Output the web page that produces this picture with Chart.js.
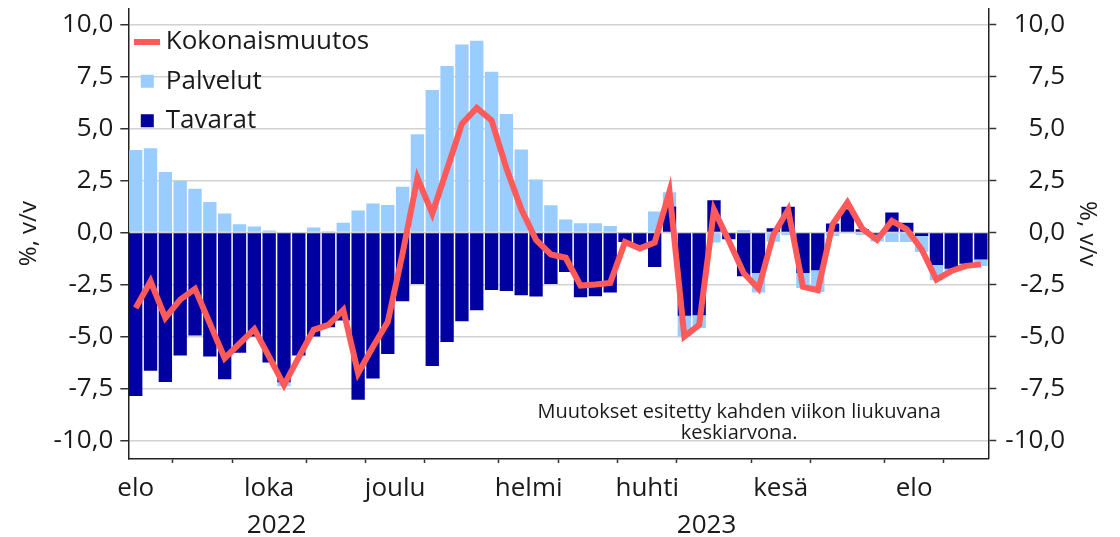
<!DOCTYPE html>
<html>
<head>
<meta charset="UTF-8">
<title>Kulutus, v/v</title>
<script src="https://cdn.jsdelivr.net/npm/chart.js@4.4.1/dist/chart.umd.min.js"></script>
<style>
    html, body { margin: 0; padding: 0; background: #fff; }
    #wrap { width: 1120px; height: 537px; }
</style>
</head>
<body>
<div id="wrap"><canvas id="myChart"></canvas></div>
<script>
// weekly data, week start (monday)
var weeks = [
    '2022-08-15', '2022-08-22', '2022-08-29', '2022-09-05', '2022-09-12', '2022-09-19', '2022-09-26',
    '2022-10-03', '2022-10-10', '2022-10-17', '2022-10-24', '2022-10-31', '2022-11-07', '2022-11-14',
    '2022-11-21', '2022-11-28', '2022-12-05', '2022-12-12', '2022-12-19', '2022-12-26', '2023-01-02',
    '2023-01-09', '2023-01-16', '2023-01-23', '2023-01-30', '2023-02-06', '2023-02-13', '2023-02-20',
    '2023-02-27', '2023-03-06', '2023-03-13', '2023-03-20', '2023-03-27', '2023-04-03', '2023-04-10',
    '2023-04-17', '2023-04-24', '2023-05-01', '2023-05-08', '2023-05-15', '2023-05-22', '2023-05-29',
    '2023-06-05', '2023-06-12', '2023-06-19', '2023-06-26', '2023-07-03', '2023-07-10', '2023-07-17',
    '2023-07-24', '2023-07-31', '2023-08-07', '2023-08-14', '2023-08-21', '2023-08-28', '2023-09-04',
    '2023-09-11', '2023-09-18'
];

var tavarat = [
    -7.87, -6.65, -7.19, -5.92, -4.95, -5.97, -7.06, -5.79, -5.0, -6.26,
    -7.2, -5.92, -5.0, -4.56, -4.23, -8.05, -7.03, -5.84, -3.31, -2.47,
    -6.42, -5.27, -4.27, -3.74, -2.76, -2.81, -3.02, -3.08, -2.48, -1.9,
    -3.11, -3.06, -2.89, -0.45, -0.65, -1.66, 1.26, -4.0, -3.98, 1.56,
    -0.32, -2.1, -1.94, 0.21, 1.24, -1.94, -1.81, 0.44, 1.13, 0.16,
    -0.1, 0.97, 0.48, -0.16, -1.56, -1.74, -1.5, -1.29
];

var palvelut = [
    3.98, 4.06, 2.92, 2.48, 2.11, 1.47, 0.92, 0.4, 0.29, 0.1,
    -0.2, 0, 0.25, 0.07, 0.48, 1.07, 1.4, 1.33, 2.21, 4.73,
    6.87, 8.02, 9.06, 9.24, 7.74, 5.71, 4.0, 2.56, 1.32, 0.63,
    0.45, 0.45, 0.32, 0, 0, 1.02, 0.68, -1.0, -0.61, -0.48,
    0, 0.11, -0.94, -0.44, -0.11, -0.73, -1.05, -0.16, 0, -0.11,
    -0.33, -0.45, -0.45, -0.77, -0.74, -0.1, -0.1, -0.32
];

var kokonais = [
    -3.63, -2.34, -4.11, -3.23, -2.71, -4.37, -6.05, -5.34, -4.65, -5.98,
    -7.34, -6.0, -4.68, -4.44, -3.72, -6.77, -5.5, -4.3, -1.0, 2.63,
    0.92, 3.06, 5.24, 6.0, 5.4, 3.1, 1.13, -0.35, -1.05, -1.21,
    -2.55, -2.5, -2.42, -0.45, -0.76, -0.48, 1.98, -5.0, -4.44, 1.1,
    -0.39, -1.95, -2.7, -0.11, 1.1, -2.61, -2.77, 0.4, 1.45, 0.19,
    -0.35, 0.56, 0.16, -0.8, -2.26, -1.85, -1.6, -1.53
];

var yTicks = [-10, -7.5, -5, -2.5, 0, 2.5, 5, 7.5, 10];
var monthNames = ['tammi', 'helmi', 'maalis', 'huhti', 'touko', 'kesä',
                  'heinä', 'elo', 'syys', 'loka', 'marras', 'joulu'];
var legendOrder = ['Kokonaismuutos', 'Palvelut', 'Tavarat'];
var noteLines = ['Muutokset esitetty kahden viikon liukuvana', 'keskiarvona.'];

var FONT = "'Open Sans', sans-serif";
var TEXT = '#1a1a1a';

//------------------------------------------------------------------------------
// month / year ticks from the week list (index units, bar i is centred on i)
var monthBounds = [];
var yearBounds = [];
for (var i = 1; i < weeks.length; i++) {
    if (weeks[i].slice(5, 7) !== weeks[i - 1].slice(5, 7)) monthBounds.push(i);
    if (weeks[i].slice(0, 4) !== weeks[i - 1].slice(0, 4)) yearBounds.push(i);
}
var monthTicks = monthBounds.map(function (b) { return {value: b - 0.5, label: ''}; });
var starts = [-(parseInt(weeks[0].slice(8, 10), 10) - 1) / 7].concat(monthBounds);
for (var j = 0; j < monthBounds.length; j++) {
    var m = parseInt(weeks[monthBounds[j] - 1].slice(5, 7), 10);
    if (m % 2 === 0) {
        monthTicks.push({value: (starts[j] + monthBounds[j]) / 2 - 0.5, label: monthNames[m - 1]});
    }
}
monthTicks.sort(function (a, b) { return a.value - b.value; });

var yearTicks = [];
var ys = [0].concat(yearBounds), ye = yearBounds.concat([weeks.length]);
for (var k = 0; k < ys.length; k++) {
    yearTicks.push({value: (ys[k] + ye[k]) / 2 - 0.5, label: weeks[ys[k]].slice(0, 4)});
}

function fmt(v) {
    return v.toFixed(1).replace('.', ',');
}

// legend swatch for the line
var swatch = document.createElement('canvas');
swatch.width = 26;
swatch.height = 6;
var sctx = swatch.getContext('2d');
sctx.fillStyle = '#ff5a5a';
sctx.fillRect(0, 0, 26, 6);

var notePlugin = {
    id: 'note',
    afterDatasetsDraw: function (chart) {
        var c = chart.ctx;
        var x = chart.scales.x.getPixelForValue(40.7);
        c.save();
        c.font = '20px ' + FONT;
        c.fillStyle = TEXT;
        c.textAlign = 'center';
        c.textBaseline = 'alphabetic';
        c.fillText(noteLines[0], x, chart.scales.y.getPixelForValue(-8.92));
        c.fillText(noteLines[1], x, chart.scales.y.getPixelForValue(-9.94));
        c.restore();
    }
};

//------------------------------------------------------------------------------
Chart.defaults.font.family = FONT;
Chart.defaults.color = TEXT;

var ctx = document.getElementById('myChart');
var myChart = new Chart(ctx, {
    data: {
        labels: weeks,
        datasets: [
            {
                type: 'line',
                label: 'Kokonaismuutos',
                data: kokonais,
                borderColor: '#ff5a5a',
                backgroundColor: '#ff5a5a',
                borderWidth: 6,
                pointRadius: 0,
                tension: 0,
                stack: 'total',
                order: 0,
                xAxisID: 'x',
                yAxisID: 'y'
            },
            {
                type: 'bar',
                label: 'Tavarat',
                data: tavarat,
                backgroundColor: '#0000a0',
                stack: 'kulutus',
                order: 1,
                barPercentage: 0.9,
                categoryPercentage: 1.0,
                xAxisID: 'x',
                yAxisID: 'y'
            },
            {
                type: 'bar',
                label: 'Palvelut',
                data: palvelut,
                backgroundColor: '#99ccff',
                stack: 'kulutus',
                order: 1,
                barPercentage: 0.9,
                categoryPercentage: 1.0,
                xAxisID: 'x',
                yAxisID: 'y'
            }
        ]
    },
    options: {
        responsive: true,
        maintainAspectRatio: false,
        animation: false,
        layout: {padding: {left: 10, right: 18.6, top: 8, bottom: 0}},
        plugins: {
            tooltip: {enabled: false},
            legend: {
                position: 'chartArea',
                align: 'start',
                title: {display: true, text: '', font: {size: 1}, padding: {top: 7, bottom: 7}},
                labels: {
                    font: {size: 26},
                    color: TEXT,
                    usePointStyle: true,
                    boxWidth: 11,
                    boxHeight: 13,
                    padding: 13.5,
                    generateLabels: function (chart) {
                        var items = Chart.defaults.plugins.legend.labels.generateLabels(chart);
                        items.forEach(function (it) {
                            it.pointStyle = it.text === 'Kokonaismuutos' ? swatch : 'rect';
                            it.lineWidth = 0;
                        });
                        return items;
                    },
                    sort: function (a, b) {
                        return legendOrder.indexOf(a.text) - legendOrder.indexOf(b.text);
                    }
                }
            }
        },
        scales: {
            x: {
                type: 'category',
                display: false,
                offset: true,
                stacked: true,
                grid: {display: false}
            },
            xm: {
                type: 'linear',
                position: 'bottom',
                weight: 0,
                min: -0.5,
                max: 57.5,
                afterBuildTicks: function (s) {
                    s.ticks = monthTicks.map(function (t) { return {value: t.value}; });
                },
                ticks: {
                    autoSkip: false,
                    maxRotation: 0,
                    padding: 12.7,
                    font: {size: 26, lineHeight: 1.0},
                    color: TEXT,
                    callback: function (v, idx) { return monthTicks[idx].label; }
                },
                grid: {
                    drawOnChartArea: false,
                    tickLength: 4,
                    tickWidth: 1.5,
                    tickColor: function (c) {
                        return monthTicks[c.index] && monthTicks[c.index].label === '' ? '#333' : 'rgba(0,0,0,0)';
                    }
                },
                border: {display: true, color: '#222', width: 1.5}
            },
            xy: {
                type: 'linear',
                position: 'bottom',
                weight: 1,
                min: -0.5,
                max: 57.5,
                afterBuildTicks: function (s) {
                    s.ticks = yearTicks.map(function (t) { return {value: t.value}; });
                },
                ticks: {
                    autoSkip: false,
                    maxRotation: 0,
                    padding: 0,
                    font: {size: 26, lineHeight: 0.87},
                    color: TEXT,
                    callback: function (v, idx) { return yearTicks[idx].label; }
                },
                grid: {display: false, drawTicks: false},
                border: {display: false}
            },
            y: {
                type: 'linear',
                position: 'left',
                stacked: true,
                min: -10.9,
                max: 10.8,
                afterBuildTicks: function (s) {
                    s.ticks = yTicks.map(function (v) { return {value: v}; });
                },
                ticks: {
                    padding: 7,
                    font: {size: 26, lineHeight: 0.1},
                    color: TEXT,
                    callback: function (v) { return fmt(v); }
                },
                grid: {color: '#d2d2d2', lineWidth: 1.5, tickColor: '#333', tickLength: 8, tickWidth: 1.5},
                border: {display: true, color: '#222', width: 1.5},
                title: {display: true, text: '%, v/v', font: {size: 24}, color: TEXT, padding: {top: 4.6, bottom: 3.2}}
            },
            y2: {
                type: 'linear',
                position: 'right',
                weight: 0,
                min: -10.9,
                max: 10.8,
                afterBuildTicks: function (s) {
                    s.ticks = yTicks.map(function (v) { return {value: v}; });
                },
                ticks: {
                    padding: 4.5,
                    crossAlign: 'far',
                    font: {size: 26, lineHeight: 0.1},
                    color: TEXT,
                    callback: function (v) { return fmt(v); }
                },
                grid: {drawOnChartArea: false, tickColor: '#333', tickLength: 8, tickWidth: 1.5},
                border: {display: true, color: '#222', width: 1.5}
            },
            y3: {
                type: 'linear',
                position: 'right',
                weight: 1,
                min: -10.9,
                max: 10.8,
                ticks: {display: false},
                grid: {display: false, drawTicks: false},
                border: {display: false},
                title: {display: true, text: '%, v/v', font: {size: 24}, color: TEXT, padding: {top: 0, bottom: 7.6}}
            }
        }
    },
    plugins: [notePlugin]
});
</script>
</body>
</html>
